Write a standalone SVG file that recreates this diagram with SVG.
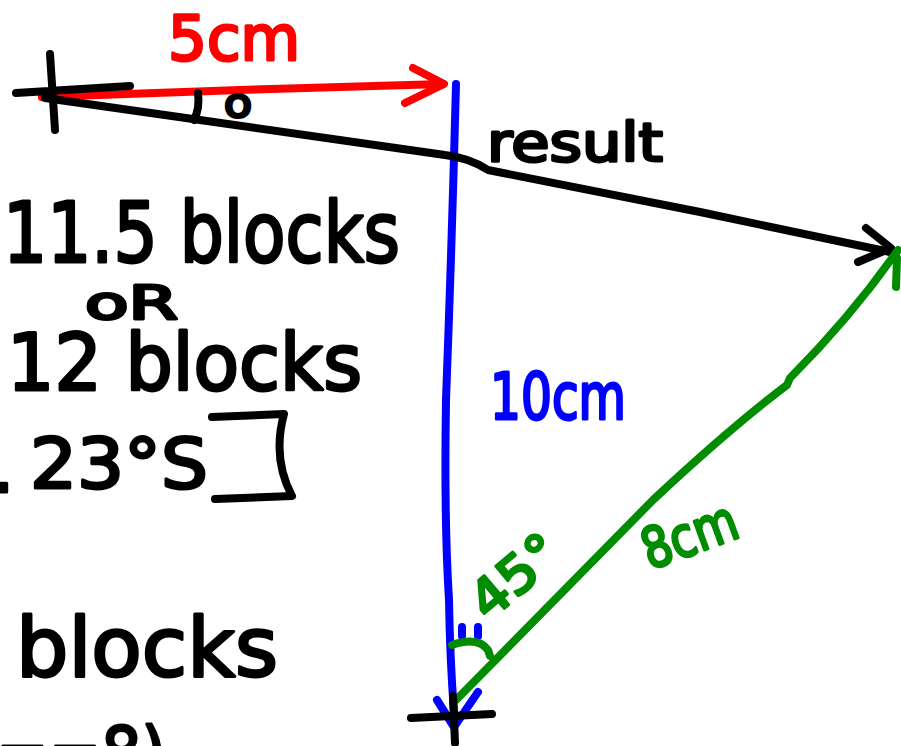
<svg xmlns="http://www.w3.org/2000/svg" width="901" height="746" viewBox="0 0 901 746">
<style>
.ln{fill:none;stroke-linecap:round;stroke-linejoin:round;stroke-width:8}
.k{stroke:#000}
.r{stroke:#ff0000}
.b{stroke:#0000ff}
.g{stroke:#008c00}
.t{font-family:"DejaVu Sans",sans-serif;stroke-width:3;stroke-linejoin:round}
.tk{fill:#000;stroke:#000}
.tr{fill:#ff0000;stroke:#ff0000}
.tb{fill:#0000ff;stroke:#0000ff}
.tg{fill:#008c00;stroke:#008c00}
</style>
<rect width="901" height="746" fill="#fff"/>
<g id="connectors">
<path class="ln b" d="M456,84 Q452,240 446,400 Q444,520 449,600 Q450,660 454,712"/>
<path class="ln b" d="M437,700 L454,727 L478,692"/>
<path class="ln b" d="M462,627 L462,636 M478,627 L478,636"/>
<path class="ln r" d="M42,97 L240,90 L443,84"/>
<path class="ln r" d="M413,68 L444,84 L405,103"/>
<path class="ln k" d="M45,98 L200,120 L445,155 Q470,158 488,170 L700,212 L890,252"/>
<path class="ln k" d="M866,228 L891,248 L858,262"/>
<path class="ln g" d="M456,700 L653,500 Q730,428 787,385 L790,378 Q850,318 898,250"/>
<path class="ln g" d="M897,258 L896,287"/>
<path class="ln g" d="M452,645 Q478,636 488,650 L490,656"/>
<path class="ln k" d="M198,93 Q200,108 194,120"/>
</g>
<g id="cross-top">
<path class="ln k" d="M50,54 L55,130 M16,93 L130,86"/>
</g>
<g id="cross-bottom">
<path class="ln k" d="M411,718 L492,714 M453,696 L455,743"/>
</g>
<g id="bracket">
<path class="ln k" d="M212,417 L284,414 Q272,458 292,496 L215,499"/>
</g>
<g id="labels">
<text class="t tr" x="168" y="60" font-size="62" textLength="132" lengthAdjust="spacingAndGlyphs">5cm</text>
<text class="t tk" x="224" y="117" font-size="40" textLength="28" lengthAdjust="spacingAndGlyphs">o</text>
<text class="t tk" x="487" y="161" font-size="54" textLength="176" lengthAdjust="spacingAndGlyphs">result</text>
<text class="t tb" x="490" y="419" font-size="64" textLength="136" lengthAdjust="spacingAndGlyphs">10cm</text>
<text class="t tg" x="488" y="622" font-size="52" textLength="100" lengthAdjust="spacingAndGlyphs" transform="rotate(-40 488 622)">45°</text>
<text class="t tg" x="650" y="570" font-size="56" textLength="98" lengthAdjust="spacingAndGlyphs" transform="rotate(-20 650 570)">8cm</text>
<text class="t tk" x="3" y="262" font-size="84" textLength="397" lengthAdjust="spacingAndGlyphs">11.5 blocks</text>
<text class="t tk" x="85" y="319" font-size="46" textLength="93" lengthAdjust="spacingAndGlyphs">oR</text>
<text class="t tk" x="7" y="390" font-size="78" textLength="355" lengthAdjust="spacingAndGlyphs">12 blocks</text>
<text class="t tk" x="-8" y="492" font-size="70">.</text>
<text class="t tk" x="30" y="488" font-size="70" textLength="178" lengthAdjust="spacingAndGlyphs">23°S</text>
<text class="t tk" x="16" y="676" font-size="82" textLength="262" lengthAdjust="spacingAndGlyphs">blocks</text>
<text class="t tk" x="-4" y="778" font-size="72" textLength="170" lengthAdjust="spacingAndGlyphs">==8)</text>
</g>
</svg>
